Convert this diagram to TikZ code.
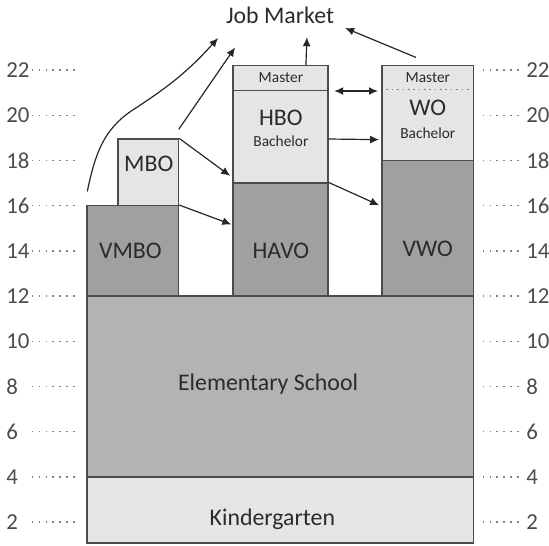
\documentclass[tikz,border=0pt]{standalone}
\usepackage{fontspec}
\setmainfont{Carlito}
\usepackage{xcolor}
\usetikzlibrary{fit,arrows.meta}

\definecolor{darkbox}{HTML}{A0A0A0}
\definecolor{midbox}{HTML}{B3B3B3}
\definecolor{lightbox}{HTML}{E5E5E5}
\definecolor{inkgray}{HTML}{2B2B2B}

\tikzset{
  school/.style={draw=black!70, line width=1.3pt, inner sep=0pt, rectangle},
  big/.style={font=\fontsize{24}{26}\selectfont, text=inkgray},
  small/.style={font=\fontsize{15.5}{17}\selectfont, text=inkgray},
  agenum/.style={font=\fontsize{23}{25}\selectfont, text=black!70, inner sep=0pt},
  agedots/.style={draw=black!50, line width=1.3pt, dash pattern=on 1.6pt off 5.4pt},
  flow/.style={-{Latex[length=9pt,width=8pt]}, line width=1.2pt, draw=black!85},
}

\begin{document}
\begin{tikzpicture}[x=0.8cm, y=0.8cm]
            \useasboundingbox (0,0.98) rectangle (24.29,25.1);
            % age scale
            \foreach \a in {2,4,...,22} {
                \node[agenum, anchor=west] (left\a) at (0.27,\a) {\a};
                \draw[agedots] (1.4,\a)--(3.3,\a);
                \draw[agedots] (21.35,\a)--(23.15,\a);
                \node[agenum, anchor=west] (right\a) at (23.28,\a) {\a};
            }
            % base
            \node[school, fill=lightbox, fit={(3.85,1.07)(20.95,4)}] (kinder) {};
            \node[school, fill=midbox, fit={(3.85,4)(20.95,12)}] (elem) {};
            % vmbo and mbo
            \node[school, fill=lightbox, fit={(5.22,16)(7.9,18.95)}] (mbo) {};
            \node[school, fill=darkbox, fit={(3.85,12)(7.9,16)}] (vmbo) {};
            % havo and hbo
            \node[school, fill=darkbox, fit={(10.31,12)(14.51,17)}] (havo) {};
            \node[school, fill=lightbox, fit={(10.31,17)(14.51,21.1)}] (hbo) {};
            \node[school, fill=lightbox, fit={(10.31,21.1)(14.51,22.2)}] (hbomaster) {};
            % vwo and wo
            \node[school, fill=darkbox, fit={(16.9,12)(20.95,18)}] (vwo) {};
            \node[school, fill=lightbox, fit={(16.9,18)(20.95,22.2)}] (wo) {};
            \draw[agedots, line width=1.1pt, dash pattern=on 1.6pt off 3.8pt] (17.1,21.15)--(20.75,21.15);

            % texts
            \node[big] (jobmarket) at (12.39,24.43) {Job Market};
            \node[big] (elemtext) at (11.86,8.1) {Elementary School};
            \node[big] (kindertext) at (12.05,2.12) {Kindergarten};
            \node[big] (vmbotext) at (5.77,14) {VMBO};
            \node[big] (mbotext) at (6.58,17.85) {MBO};
            \node[big] (havotext) at (12.43,14) {HAVO};
            \node[big] (hbotext) at (12.43,19.9) {HBO};
            \node[small] (hbobach) at (12.43,18.85) {Bachelor};
            \node[small] (hbomastertext) at (12.43,21.65) {Master};
            \node[big] (vwotext) at (18.93,14.1) {VWO};
            \node[big] (wotext) at (18.93,20.35) {WO};
            \node[small] (wobach) at (18.93,19.2) {Bachelor};
            \node[small] (womastertext) at (18.93,21.65) {Master};

            % end points near the job market
            \coordinate (jm1) at (9.65,23.42);
            \coordinate (jm2) at (10.4,23.0);
            \coordinate (jm3) at (13.58,23.45);
            \coordinate (jm4) at (15.27,23.86);

            % flows
            \draw[flow] ([shift={(0.04,0.6)}]vmbo.north west) to[out=78,in=213] (5.9,20.25) to[out=33,in=228] (jm1);
            \draw[flow] ([shift={(-0.02,0.4)}]mbo.north east) -- (jm2);
            \draw[flow] (mbo.north east) -- ([shift={(-0.1,0.35)}]hbo.south west);
            \draw[flow] (vmbo.north east) -- ([shift={(-0.05,3.2)}]havo.south west);
            \draw[flow] (havo.north east) -- ([shift={(-0.1,4.05)}]vwo.south west);
            \draw[flow] ([yshift=-0.08cm]hbo.east) -- ([shift={(-0.1,0.95)}]wo.south west);
            \draw[flow, {Latex[length=9pt,width=8pt]}-{Latex[length=9pt,width=8pt]}] ([xshift=0.2cm]hbomaster.south east) -- ([xshift=-0.12cm]wo.north west |- hbomaster.south east);
            \draw[flow] ([xshift=0.9cm]hbomaster.north) -- (jm3);
            \draw[flow] ([shift={(-0.52,0.33)}]wo.north) -- (jm4);
\end{tikzpicture}
\end{document}
